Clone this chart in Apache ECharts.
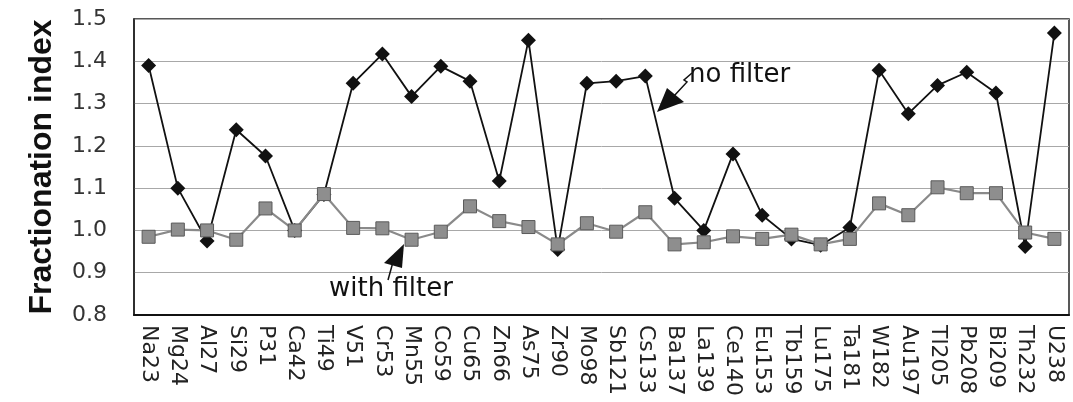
<!DOCTYPE html>
<html>
<head>
<meta charset="utf-8">
<script src="https://cdn.jsdelivr.net/npm/echarts@6/dist/echarts.min.js"></script>
<style>
html,body{margin:0;padding:0;background:#fff;}
#chart{width:1073px;height:402px;}
</style>
</head>
<body>
<div id="chart"></div>
<script>
const categories = ['Na23','Mg24','Al27','Si29','P31','Ca42','Ti49','V51','Cr53','Mn55','Co59','Cu65','Zn66','As75','Zr90','Mo98','Sb121','Cs133','Ba137','La139','Ce140','Eu153','Tb159','Lu175','Ta181','W182','Au197','Tl205','Pb208','Bi209','Th232','U238'];
const noFilter = [1.39,1.10,0.975,1.238,1.176,1.0,1.085,1.348,1.417,1.317,1.388,1.353,1.117,1.45,0.955,1.348,1.353,1.365,1.076,1.0,1.181,1.036,0.98,0.965,1.007,1.379,1.276,1.343,1.374,1.325,0.962,1.467];
const withFilter = [0.985,1.002,1.0,0.978,1.052,1.0,1.086,1.006,1.005,0.978,0.997,1.057,1.022,1.008,0.967,1.017,0.997,1.043,0.967,0.972,0.986,0.98,0.99,0.967,0.98,1.064,1.036,1.102,1.088,1.088,0.995,0.98];
const yTicks = [0.8,0.9,1.0,1.1,1.2,1.3,1.4,1.5];
const yTitle = 'Fractionation index';
const labelNoFilter = 'no filter';
const labelWithFilter = 'with filter';

const chart = echarts.init(document.getElementById('chart'));
chart.setOption({
  animation: false,
  backgroundColor: '#fff',
  grid: {left: 134, right: 4, top: 19, bottom: 87, show: true, borderColor: '#222', borderWidth: 1.5, backgroundColor: 'transparent'},
  xAxis: {
    type: 'category',
    data: categories,
    boundaryGap: true,
    axisLine: {lineStyle: {color: '#111', width: 2}},
    axisTick: {show: false},
    axisLabel: {rotate: -90, margin: 10, fontFamily: 'DejaVu Sans', fontSize: 22, color: '#222', interval: 0}
  },
  yAxis: {
    type: 'value',
    min: yTicks[0], max: yTicks[yTicks.length-1], interval: 0.1,
    name: yTitle,
    nameLocation: 'middle',
    nameGap: 76,
    nameTextStyle: {fontFamily: 'Liberation Sans', fontWeight: 'bold', fontSize: 32, color: '#111'},
    axisLine: {show: true, lineStyle: {color: '#222', width: 1.5}},
    axisTick: {show: false},
    axisLabel: {margin: 27, fontFamily: 'DejaVu Sans', fontSize: 22, color: '#333', formatter: v => v.toFixed(1)},
    splitLine: {show: true, lineStyle: {color: '#a8a8a8', width: 1}}
  },
  series: [
    {
      name: labelNoFilter, type: 'line', data: noFilter,
      symbol: 'diamond', symbolSize: 15,
      itemStyle: {color: '#111'},
      lineStyle: {color: '#111', width: 1.8},
      z: 2
    },
    {
      name: labelWithFilter, type: 'line', data: withFilter,
      symbol: 'rect', symbolSize: 13,
      itemStyle: {color: '#8e8e8e', borderColor: '#5a5a5a', borderWidth: 1},
      lineStyle: {color: '#8a8a8a', width: 2.2},
      z: 3
    }
  ],
  graphic: [
    {type: 'text', left: 689, top: 62, z: 10, style: {text: labelNoFilter, font: '26px "DejaVu Sans"', fill: '#111'}},
    {type: 'polyline', z: 10, shape: {points: [[692,73],[684,80],[687,82],[674,96]]}, style: {stroke: '#111', lineWidth: 1.5, fill: null}},
    {type: 'polygon', z: 10, shape: {points: [[657,112],[667,88],[684,102]]}, style: {fill: '#111'}},
    {type: 'text', left: 329, top: 276, z: 10, style: {text: labelWithFilter, font: '26px "DejaVu Sans"', fill: '#111'}},
    {type: 'polyline', z: 10, shape: {points: [[388,280],[393,262]]}, style: {stroke: '#111', lineWidth: 1.5, fill: null}},
    {type: 'polygon', z: 10, shape: {points: [[404,244],[384,263],[402,268]]}, style: {fill: '#111'}}
  ]
});
</script>
</body>
</html>
